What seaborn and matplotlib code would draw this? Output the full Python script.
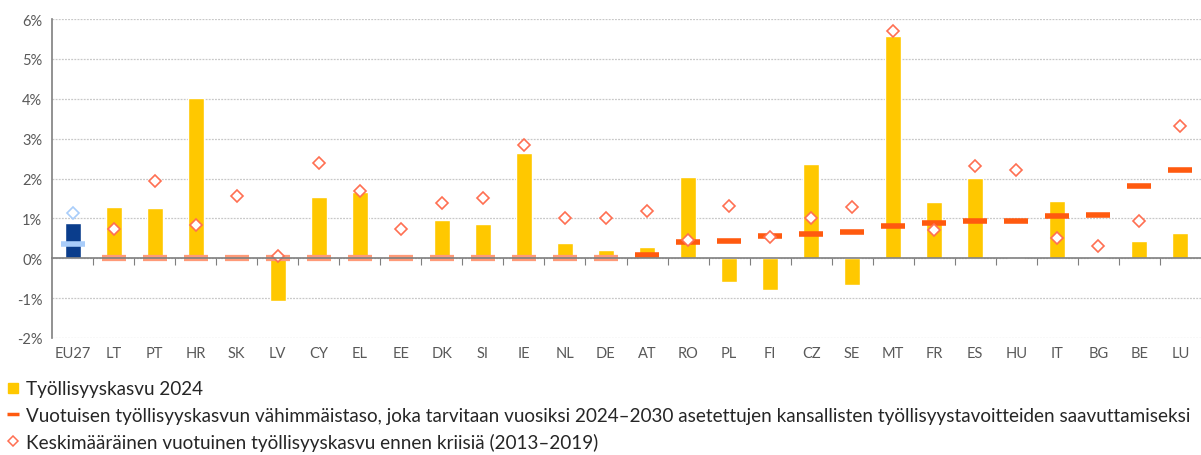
import matplotlib as mpl
import matplotlib.pyplot as plt
from matplotlib.lines import Line2D
import pandas as pd
import seaborn as sns
from matplotlib.ticker import FuncFormatter, FixedLocator

countries = ['EU27', 'LT', 'PT', 'HR', 'SK', 'LV', 'CY', 'EL', 'EE', 'DK', 'SI', 'IE', 'NL', 'DE',
             'AT', 'RO', 'PL', 'FI', 'CZ', 'SE', 'MT', 'FR', 'ES', 'HU', 'IT', 'BG', 'BE', 'LU']
growth_2024 = [0.88, 1.29, 1.25, 4.02, 0.0, -1.08, 1.54, 1.67, 0.0, 0.96, 0.85, 2.64, 0.37, 0.20,
               0.28, 2.05, -0.59, -0.79, 2.37, -0.68, 5.58, 1.42, 2.02, -0.03, 1.44, -0.02, 0.44, 0.63]
min_needed = [0.35, 0.0, 0.0, 0.0, 0.0, 0.0, 0.0, 0.0, 0.0, 0.0, 0.0, 0.0, 0.0, 0.0,
              0.09, 0.41, 0.44, 0.57, 0.60, 0.66, 0.81, 0.89, 0.93, 0.93, 1.06, 1.09, 1.81, 2.21]
precrisis = [1.13, 0.73, 1.93, 0.84, 1.55, 0.06, 2.38, 1.69, 0.73, 1.39, 1.51, 2.85, 1.00, 1.02,
             1.18, 0.46, 1.30, 0.54, 1.00, 1.28, 5.70, 0.71, 2.31, 2.22, 0.51, 0.30, 0.93, 3.31]

lab_bar = 'Työllisyyskasvu 2024'
lab_min = 'Vuotuisen työllisyyskasvun vähimmäistaso, joka tarvitaan vuosiksi 2024\u20132030 asetettujen kansallisten työllisyystavoitteiden saavuttamiseksi'
lab_pre = 'Keskimääräinen vuotuinen työllisyyskasvu ennen kriisiä (2013\u20132019)'

df = pd.DataFrame({'country': countries, 'growth': growth_2024, 'minimum': min_needed, 'pre': precrisis})
df['group'] = ['EU' if c == 'EU27' else 'MS' for c in countries]

sns.set_style('white')
plt.rcParams['font.family'] = ['Liberation Sans Narrow', 'Lato', 'DejaVu Sans']

YEL = '#FFC800'
NAVY = '#0A3D8C'
RED = '#FF5A0F'
DIAM = '#FF6F52'
LBLUE = '#A9CDFA'
GREY = '#595959'

fig = plt.figure(figsize=(12.01, 4.56), dpi=100)
ax = fig.add_axes([0.0433, 0.2566, 0.9567, 0.6995])

sns.barplot(data=df, x='country', y='growth', hue='group', palette={'EU': NAVY, 'MS': YEL},
            width=0.39, dodge=False, legend=False, ax=ax, zorder=2, saturation=1)

eu = df[df['group'] == 'EU']
ms = df[df['group'] == 'MS']
ms_zero = ms[ms['minimum'] == 0]
ms_pos = ms[ms['minimum'] != 0]

ax.plot(eu['country'], eu['minimum'], ls='none', marker='_', ms=17, mew=4, color=LBLUE, zorder=3)
ax.plot(ms_zero['country'], ms_zero['minimum'], ls='none', marker='_', ms=17, mew=4.5, color='#FF9A78', zorder=3)
ax.plot(ms_pos['country'], ms_pos['minimum'], ls='none', marker='_', ms=17, mew=4, color=RED, zorder=3)

ax.plot(eu['country'], eu['pre'], ls='none', marker='D', ms=6.5, mfc='white', mec=LBLUE, mew=1.2, zorder=4)
ax.plot(ms['country'], ms['pre'], ls='none', marker='D', ms=6.5, mfc='white', mec=DIAM, mew=1.2, zorder=4)

ax.set_ylim(-2, 6)
ax.set_xlim(-0.5, len(countries) - 0.5)
ax.set_yticks(range(-2, 7))
ax.yaxis.set_major_formatter(FuncFormatter(lambda v, p: f'{int(v)}%'))
ax.yaxis.grid(True, ls=(0, (1.5, 1)), color='#C8C8C8', lw=0.9)
ax.set_axisbelow(True)
ax.set_xlabel('')
ax.set_ylabel('')

for s in ['top', 'right', 'bottom']:
    ax.spines[s].set_visible(False)
ax.spines['left'].set_color('#7F7F7F')
ax.spines['left'].set_linewidth(1.2)
ax.tick_params(axis='y', colors=GREY, labelsize=10.5, length=4, color='#7F7F7F', pad=3)
ax.tick_params(axis='x', colors=GREY, labelsize=10.5, length=0, pad=6)

# zero line with tick marks between categories
zero = ax.secondary_xaxis(0.25)
zero.spines['bottom'].set_color('#7F7F7F')
zero.spines['bottom'].set_linewidth(1.2)
zero.xaxis.set_major_locator(FixedLocator([i + 0.5 for i in range(len(countries) - 1)]))
zero.tick_params(axis='x', length=5, color='#7F7F7F', labelbottom=False)
zero.set_zorder(5)

handles = [
    Line2D([], [], ls='none', marker='s', ms=7, color=YEL),
    Line2D([], [], ls='none', marker='_', ms=8, mew=2.5, color=RED),
    Line2D([], [], ls='none', marker='D', ms=5, mfc='white', mec=DIAM, mew=1.1),
]
fig.legend(handles, [lab_bar, lab_min, lab_pre], loc='lower left', bbox_to_anchor=(0.0, -0.008),
           frameon=False, fontsize=13.6, handlelength=0.6, handletextpad=0.4, labelspacing=0.5,
           borderaxespad=0, labelcolor='#262626')

fig.savefig('out.png', dpi=100)
